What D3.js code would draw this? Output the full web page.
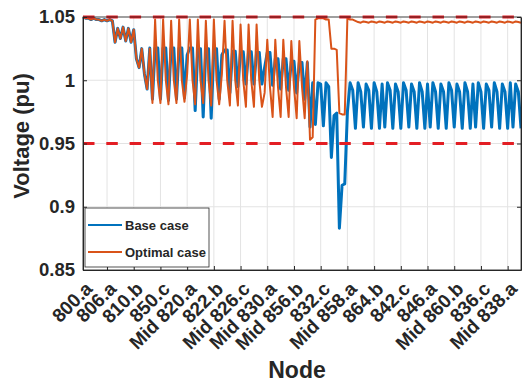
<!DOCTYPE html>
<html><head><meta charset="utf-8">
<script src="https://cdn.jsdelivr.net/npm/d3@7/dist/d3.min.js"></script>
<style>
body{margin:0;background:#fff}
svg{display:block}
text{font-family:"Liberation Sans",Arial,Helvetica,sans-serif;font-weight:bold;fill:#262626}
</style>
</head><body><svg id="chart" width="522" height="383"></svg>
<script>
// ---- data ----
const tickLabels = ["800.a","806.a","810.b","850.c","Mid 820.a","822.b","Mid 826.c","Mid 830.a","Mid 856.b","832.c","Mid 858.a","864.b","842.c","846.a","Mid 860.b","836.c","Mid 838.a"];
const tickNodes = [1,10,20,30,40,50,60,70,80,90,100,110,120,130,140,150,160];
const yTicks = [0.85,0.9,0.95,1,1.05];
const voltageLimits = [0.95,1.05];
const baseCase = [
1.050,1.049,1.049,1.048,1.049,1.048,1.048,1.047,1.048,1.047,
1.048,1.047,1.030,1.041,1.033,1.042,1.031,1.041,1.030,1.040,
1.017,1.010,1.025,1.005,0.993,1.0255,0.985,1.0255,1.0255,0.985,
1.0255,1.0255,0.984,1.0255,1.0255,0.985,1.0255,1.0255,0.986,1.020,
1.0255,1.0255,0.976,1.025,1.025,0.971,1.025,1.025,0.970,1.025,
1.025,0.985,1.020,1.024,1.024,0.990,1.023,1.023,0.995,1.0226,
1.0226,0.997,1.0226,1.0226,0.997,1.022,1.022,0.997,1.010,1.022,
1.022,0.996,1.017,1.017,0.993,1.017,1.017,0.992,1.015,1.015,
0.990,1.014,1.014,0.985,1.014,0.963,0.998,0.965,0.998,0.997,
0.964,0.998,0.995,0.939,0.972,0.974,0.883,0.917,0.918,0.975,
0.998,0.992,0.962,0.998,0.991,0.963,0.997,0.992,0.962,0.998,
0.991,0.962,0.997,0.963,0.998,0.992,0.962,0.997,0.991,0.962,
0.998,0.992,0.963,0.997,0.991,0.962,0.998,0.991,0.962,0.997,
0.963,0.998,0.991,0.962,0.997,0.991,0.962,0.998,0.992,0.963,
0.997,0.991,0.962,0.998,0.991,0.962,0.997,0.963,0.998,0.991,
0.962,0.997,0.992,0.963,0.998,0.991,0.962,0.997,0.991,0.962,
0.998,0.963,0.997,0.991,0.962
];
const optimalCase = [
1.050,1.049,1.049,1.048,1.049,1.048,1.048,1.047,1.048,1.047,
1.048,1.047,1.030,1.041,1.033,1.042,1.031,1.041,1.030,1.040,
1.017,1.010,1.025,1.005,0.993,1.025,0.982,1.048,1.000,0.982,
1.048,1.000,0.981,1.047,1.000,0.982,1.048,1.000,0.983,1.005,
1.048,1.000,0.981,1.048,1.000,0.982,1.047,1.000,0.980,1.048,
1.000,0.981,1.005,1.047,1.000,0.980,1.047,1.000,0.980,1.044,
1.000,0.979,1.044,1.000,0.979,1.044,1.000,0.979,0.990,1.032,
0.995,0.971,1.032,0.995,0.971,1.032,0.995,0.971,1.031,0.995,
0.970,1.031,0.995,0.970,1.015,0.953,0.955,1.048,1.049,1.049,
1.049,1.048,1.048,1.025,1.025,1.024,0.974,0.973,0.973,1.049,
1.048,1.048,1.047,1.046,1.0455,1.0465,1.046,1.0455,1.0465,1.046,
1.0455,1.0465,1.046,1.0455,1.0465,1.046,1.0455,1.0465,1.046,1.0455,
1.0465,1.046,1.0455,1.0465,1.046,1.0455,1.0465,1.046,1.0455,1.0465,
1.046,1.0455,1.0465,1.046,1.0455,1.0465,1.046,1.0455,1.0465,1.046,
1.0455,1.0465,1.046,1.0455,1.0465,1.046,1.0455,1.0465,1.046,1.0455,
1.0465,1.046,1.0455,1.0465,1.046,1.0455,1.0465,1.046,1.0455,1.0465,
1.046,1.0455,1.0465,1.046,1.0455
];
const seriesNames = ["Base case","Optimal case"];
const seriesColors = ["#0072BD","#D95319"];

// ---- layout ----
const svg = d3.select("#chart");
const L = 83, R = 521, T = 17, B = 270;
const nNodes = baseCase.length;
const x = d3.scaleLinear().domain([1, nNodes]).range([L, R]);
const y = d3.scaleLinear().domain([0.85, 1.05]).range([B, T]);
const axisColor = "#262626";

svg.append("rect").attr("width",522).attr("height",383).attr("fill","#fff");

// grid
const grid = svg.append("g").attr("stroke","#e3e3e3").attr("stroke-width",1);
grid.selectAll("line.v").data(tickNodes).join("line")
  .attr("x1",d=>x(d)).attr("x2",d=>x(d)).attr("y1",T).attr("y2",B);
grid.selectAll("line.h").data(yTicks).join("line")
  .attr("x1",L).attr("x2",R).attr("y1",d=>y(d)).attr("y2",d=>y(d));

// lines
const lineGen = d3.line().x((d,i)=>x(i+1)).y(d=>y(d));
svg.append("path").datum(baseCase).attr("d",lineGen)
  .attr("fill","none").attr("stroke",seriesColors[0]).attr("stroke-width",3).attr("stroke-linejoin","round");
svg.append("path").datum(optimalCase).attr("d",lineGen)
  .attr("fill","none").attr("stroke",seriesColors[1]).attr("stroke-width",2).attr("stroke-linejoin","round");

// limits
svg.selectAll("line.lim").data(voltageLimits).join("line")
  .attr("x1",L).attr("x2",R).attr("y1",d=>y(d)).attr("y2",d=>y(d))
  .attr("stroke","#e31e24").attr("stroke-width",3).attr("stroke-dasharray","11.5 11.8");

// box
svg.append("rect").attr("x",L).attr("y",T).attr("width",R-L).attr("height",B-T)
  .attr("fill","none").attr("stroke",axisColor).attr("stroke-width",0.8);

// x axis
const xAxis = d3.axisBottom(x).tickValues(tickNodes).tickFormat((d,i)=>tickLabels[i])
  .tickSizeInner(-4).tickSizeOuter(0);
const gx = svg.append("g").attr("transform",`translate(0,${B})`).call(xAxis);
gx.select(".domain").attr("stroke",axisColor);
gx.selectAll(".tick line").attr("stroke",axisColor);
gx.selectAll(".tick text").attr("x",0).attr("y",0).attr("dy",0)
  .attr("text-anchor","end").attr("transform","translate(10,20) rotate(-45)")
  .style("font-size","19px").attr("fill",axisColor);

// y axis
const yAxis = d3.axisLeft(y).tickValues(yTicks).tickFormat(d=>d3.format("")(+d.toFixed(2)))
  .tickSizeInner(-4).tickSizeOuter(0).tickPadding(8);
const gy = svg.append("g").attr("transform",`translate(${L},0)`).call(yAxis);
gy.select(".domain").attr("stroke",axisColor);
gy.selectAll(".tick line").attr("stroke",axisColor);
gy.selectAll(".tick text").style("font-size","18.5px").attr("fill",axisColor);
// right-side ticks
const yAxisR = d3.axisRight(y).tickValues(yTicks).tickFormat("").tickSizeInner(-4).tickSizeOuter(0);
const gyr = svg.append("g").attr("transform",`translate(${R},0)`).call(yAxisR);
gyr.selectAll("line").attr("stroke",axisColor); gyr.select(".domain").attr("stroke",axisColor);

// labels
svg.append("text").attr("x",297).attr("y",378).attr("text-anchor","middle")
  .style("font-size","23px").text("Node");
svg.append("text").attr("transform","translate(29,136) rotate(-90)").attr("text-anchor","middle")
  .style("font-size","22px").text("Voltage (pu)");

// legend
const lg = svg.append("g");
lg.append("rect").attr("x",85).attr("y",208).attr("width",124).attr("height",59)
  .attr("fill","#fff").attr("stroke",axisColor).attr("stroke-width",0.8);
seriesNames.forEach((name,i)=>{
  const yy = 225 + i*27;
  lg.append("line").attr("x1",88).attr("x2",122).attr("y1",yy).attr("y2",yy)
    .attr("stroke",seriesColors[i]).attr("stroke-width",2);
  lg.append("text").attr("x",125).attr("y",yy+5).style("font-size","13px").text(name);
});
</script>
</body></html>
